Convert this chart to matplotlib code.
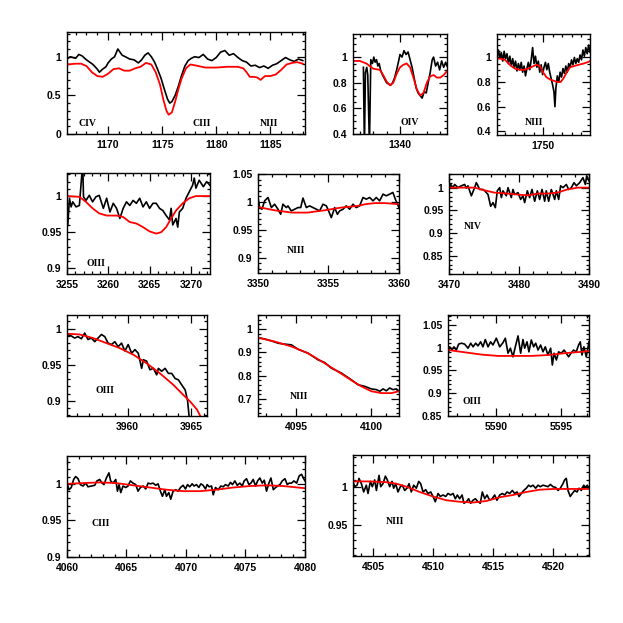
import matplotlib
matplotlib.use('Agg')
import matplotlib.pyplot as plt
from matplotlib.ticker import MultipleLocator, FuncFormatter

# Observed spectrum (black) and model (red), one pair of lists per window.

# CIV / CIII / NIII  1166-1188
w1_obs = [1166.2, 1166.5, 1167.0, 1167.3, 1167.6, 1168.0, 1168.3, 1168.6, 1169.0, 1169.2,
          1169.5, 1169.8, 1170.0, 1170.3, 1170.6, 1170.9, 1171.1, 1171.3, 1171.6, 1172.0,
          1172.4, 1172.8, 1173.1, 1173.4, 1173.7, 1174.0, 1174.3, 1174.6, 1174.9, 1175.2,
          1175.5, 1175.7, 1175.9, 1176.2, 1176.5, 1176.8, 1177.1, 1177.4, 1177.7, 1178.0,
          1178.4, 1178.8, 1179.2, 1179.6, 1180.0, 1180.4, 1180.8, 1181.2, 1181.6, 1182.0,
          1182.4, 1182.8, 1183.2, 1183.6, 1184.0, 1184.4, 1184.8, 1185.2, 1185.6, 1186.0,
          1186.4, 1186.8, 1187.2, 1187.6, 1188.0]
f1_obs = [0.97, 1.00, 0.98, 1.03, 1.01, 0.96, 0.93, 0.90, 0.84, 0.80,
          0.84, 0.87, 0.92, 0.97, 1.00, 1.10, 1.06, 1.02, 1.00, 0.97,
          0.96, 0.92, 0.96, 1.02, 1.05, 1.00, 0.93, 0.83, 0.72, 0.58,
          0.45, 0.40, 0.42, 0.50, 0.62, 0.76, 0.88, 0.95, 0.98, 1.00,
          0.99, 1.03, 0.97, 0.95, 0.99, 1.06, 1.08, 1.02, 1.04, 0.99,
          0.95, 0.93, 0.88, 0.89, 0.86, 0.88, 0.85, 0.89, 0.91, 0.95,
          0.99, 0.96, 0.94, 0.97, 0.95]
w1_mod = [1166.2, 1167.0, 1167.5, 1168.0, 1168.5, 1169.0, 1169.5, 1170.0, 1170.5, 1171.0,
          1171.5, 1172.0, 1172.5, 1173.0, 1173.5, 1174.0, 1174.4, 1174.8, 1175.1, 1175.4,
          1175.6, 1175.9, 1176.2, 1176.5, 1176.8, 1177.2, 1177.6, 1178.0, 1179.0, 1180.0,
          1181.0, 1182.0, 1182.5, 1182.8, 1183.1, 1183.5, 1183.8, 1184.1, 1184.5, 1185.0,
          1185.5, 1186.0, 1186.5, 1187.0, 1187.5, 1188.0]
f1_mod = [0.90, 0.91, 0.91, 0.88, 0.80, 0.75, 0.74, 0.78, 0.84, 0.85,
          0.82, 0.82, 0.85, 0.87, 0.92, 0.90, 0.80, 0.64, 0.45, 0.30,
          0.25, 0.28, 0.42, 0.58, 0.72, 0.85, 0.90, 0.89, 0.86, 0.86,
          0.87, 0.87, 0.85, 0.80, 0.74, 0.74, 0.73, 0.70, 0.75, 0.75,
          0.77, 0.83, 0.90, 0.92, 0.93, 0.91]

# OIV  1333-1347
w2_obs = [1334.55, 1334.7, 1334.85, 1335.05, 1335.2, 1335.45, 1335.65, 1335.9, 1336.1, 1336.3,
          1336.5, 1336.7, 1336.9, 1337.1, 1337.4, 1337.7, 1338.0, 1338.3, 1338.6, 1338.9,
          1339.2, 1339.5, 1339.8, 1340.0, 1340.3, 1340.6, 1340.9, 1341.2, 1341.5, 1341.8,
          1342.1, 1342.4, 1342.7, 1343.0, 1343.3, 1343.6, 1343.9, 1344.2, 1344.5, 1344.8,
          1345.0, 1345.3, 1345.6, 1345.9, 1346.2, 1346.5, 1346.8, 1347.0]
f2_obs = [0.92, 0.30, 0.88, 0.92, 0.86, 0.30, 0.98, 0.95, 1.00, 0.96,
          0.98, 0.93, 0.95, 0.90, 0.86, 0.83, 0.80, 0.79, 0.78, 0.80,
          0.84, 0.90, 0.97, 1.02, 1.00, 1.05, 1.02, 1.04, 0.98, 0.92,
          0.84, 0.76, 0.72, 0.70, 0.68, 0.73, 0.72, 0.80, 0.88, 0.98,
          1.00, 0.93, 0.96, 0.90, 0.97, 0.92, 0.96, 0.93]
w2_mod = [1333.0, 1334.0, 1335.0, 1336.0, 1337.0, 1337.5, 1338.0, 1338.5, 1339.0, 1339.5,
          1340.0, 1340.5, 1341.0, 1341.5, 1342.0, 1342.5, 1343.0, 1343.5, 1344.0, 1344.5,
          1345.0, 1345.5, 1346.0, 1346.5, 1347.0]
f2_mod = [0.97, 0.97, 0.95, 0.91, 0.90, 0.86, 0.81, 0.78, 0.80, 0.87,
          0.92, 0.94, 0.95, 0.92, 0.84, 0.75, 0.70, 0.72, 0.80, 0.85,
          0.86, 0.84, 0.84, 0.86, 0.89]

# NIII  1740-1760
w3_obs = [1740.2, 1740.3, 1740.6, 1740.9, 1741.2, 1741.5, 1741.8, 1742.1, 1742.4, 1742.7,
          1743.0, 1743.3, 1743.6, 1743.9, 1744.2, 1744.5, 1744.8, 1745.1, 1745.4, 1745.7,
          1746.0, 1746.3, 1746.6, 1746.9, 1747.2, 1747.5, 1747.8, 1748.1, 1748.4, 1748.7,
          1749.0, 1749.3, 1749.6, 1749.9, 1750.2, 1750.5, 1750.8, 1751.1, 1751.4, 1751.7,
          1752.0, 1752.3, 1752.5, 1752.7, 1753.0, 1753.3, 1753.6, 1753.9, 1754.2, 1754.5,
          1754.8, 1755.1, 1755.4, 1755.7, 1756.0, 1756.3, 1756.6, 1756.9, 1757.2, 1757.5,
          1757.8, 1758.1, 1758.4, 1758.7, 1759.0, 1759.3, 1759.6, 1759.9, 1760.4]
f3_obs = [1.02, 0.98, 1.06, 1.00, 1.04, 0.97, 1.05, 0.99, 1.03, 0.95,
          1.01, 0.93, 0.99, 0.92, 0.97, 0.89, 0.95, 0.90, 0.96, 0.88,
          0.93, 0.85, 0.91, 0.96, 0.90, 0.98, 1.08, 0.95, 1.01, 0.92,
          0.97, 0.88, 0.94, 0.86, 0.92, 0.96, 0.90, 0.95, 0.88, 0.83,
          0.78, 0.72, 0.60, 0.75, 0.85, 0.80, 0.88, 0.84, 0.91, 0.87,
          0.93, 0.88, 0.95, 0.92, 0.98, 0.94, 1.00, 0.95, 0.99, 0.96,
          1.02, 0.98, 1.06, 1.01, 1.08, 1.03, 1.10, 1.04, 1.07]
w3_mod = [1740.2, 1741.0, 1742.0, 1743.0, 1744.0, 1745.0, 1746.0, 1747.0, 1748.0, 1748.7,
          1749.3, 1750.0, 1750.7, 1751.5, 1752.3, 1753.0, 1753.7, 1754.3, 1755.0, 1755.7,
          1756.5, 1757.5, 1758.5, 1759.3, 1760.4]
f3_mod = [0.99, 0.99, 0.98, 0.94, 0.91, 0.90, 0.90, 0.91, 0.93, 0.94,
          0.93, 0.88, 0.84, 0.82, 0.81, 0.80, 0.80, 0.83, 0.88, 0.92,
          0.93, 0.94, 0.95, 0.96, 0.98]

# OIII  3255-3272
w4_obs = [3255.0, 3255.1, 3255.3, 3255.5, 3255.7, 3256.1, 3256.5, 3256.9, 3257.0, 3257.3,
          3257.7, 3258.1, 3258.5, 3258.9, 3259.4, 3259.8, 3260.2, 3260.6, 3261.0, 3261.4,
          3261.8, 3262.2, 3262.6, 3263.0, 3263.4, 3263.8, 3264.2, 3264.6, 3265.0, 3265.4,
          3265.8, 3266.2, 3266.6, 3267.0, 3267.4, 3267.6, 3267.8, 3268.2, 3268.4, 3268.6,
          3269.0, 3269.4, 3269.8, 3270.2, 3270.4, 3270.6, 3271.0, 3271.5, 3271.9, 3272.3]
f4_obs = [0.958, 0.960, 0.997, 0.985, 0.992, 0.985, 0.987, 1.045, 0.999, 0.994,
          1.001, 0.992, 0.999, 1.001, 0.983, 0.997, 0.978, 0.990, 0.983, 0.969,
          0.983, 0.992, 0.987, 0.994, 0.990, 0.997, 0.985, 0.992, 0.983, 0.990,
          0.990, 0.983, 0.980, 0.973, 0.967, 0.983, 0.960, 0.969, 0.957, 0.978,
          0.983, 0.997, 1.006, 1.015, 1.025, 1.011, 1.022, 1.013, 1.020, 1.015]
w4_mod = [3255.0, 3256.5, 3257.3, 3258.1, 3258.9, 3259.8, 3261.0, 3261.8, 3262.6, 3263.4,
          3264.2, 3265.0, 3265.8, 3266.4, 3267.0, 3267.6, 3268.2, 3269.0, 3269.8, 3270.6,
          3272.3]
f4_mod = [1.000, 0.999, 0.992, 0.983, 0.976, 0.973, 0.973, 0.971, 0.964, 0.962,
          0.957, 0.951, 0.948, 0.950, 0.957, 0.969, 0.980, 0.990, 0.997, 1.000,
          1.000]

# NIII  3350-3360
w5_obs = [3350.0, 3350.12, 3350.28, 3350.47, 3350.71, 3350.95, 3351.18, 3351.42, 3351.61, 3351.77,
          3352.01, 3352.13, 3352.36, 3352.60, 3352.84, 3353.03, 3353.19, 3353.43, 3353.66, 3353.90,
          3354.14, 3354.37, 3354.61, 3354.85, 3355.01, 3355.20, 3355.44, 3355.63, 3355.79, 3356.03,
          3356.26, 3356.50, 3356.74, 3356.97, 3357.21, 3357.45, 3357.68, 3357.92, 3358.16, 3358.39,
          3358.63, 3358.87, 3359.10, 3359.34, 3359.57, 3359.74, 3360.0]
f5_obs = [1.008, 0.990, 0.987, 1.002, 1.008, 0.990, 0.996, 0.987, 0.978, 0.996,
          0.990, 0.993, 0.984, 0.987, 0.990, 0.990, 1.007, 0.990, 0.993, 0.990,
          0.987, 0.984, 0.996, 0.993, 0.984, 0.972, 0.990, 0.978, 0.984, 0.987,
          0.993, 0.987, 0.996, 0.990, 0.993, 1.008, 1.005, 1.008, 1.002, 1.008,
          1.002, 1.014, 1.011, 1.014, 1.017, 1.005, 0.990]
w5_mod = [3350.0, 3351.2, 3352.4, 3353.5, 3354.7, 3355.9, 3357.1, 3357.6, 3358.3, 3359.0,
          3360.0]
f5_mod = [0.991, 0.985, 0.981, 0.981, 0.985, 0.990, 0.993, 0.996, 0.998, 0.998,
          0.996]

# NIV  3470-3490
w6_obs = [3470.0, 3470.24, 3470.57, 3470.81, 3471.29, 3471.76, 3472.24, 3472.48, 3472.71, 3473.19,
          3473.67, 3473.90, 3474.14, 3474.38, 3474.86, 3475.10, 3475.57, 3475.95, 3476.29, 3476.62,
          3476.90, 3477.24, 3477.48, 3477.71, 3478.19, 3478.43, 3478.90, 3479.14, 3479.38, 3479.86,
          3480.24, 3480.57, 3480.81, 3481.19, 3481.52, 3481.86, 3482.24, 3482.62, 3482.95, 3483.29,
          3483.67, 3483.90, 3484.24, 3484.62, 3485.10, 3485.33, 3485.67, 3485.95, 3486.29, 3486.76,
          3487.10, 3487.48, 3487.86, 3488.19, 3488.67, 3489.14, 3489.48, 3489.67, 3490.0]
f6_obs = [0.996, 1.007, 1.000, 1.007, 1.000, 1.004, 1.007, 0.999, 1.004, 0.982,
          1.000, 1.011, 1.004, 0.996, 0.996, 0.993, 0.985, 0.959, 0.967, 0.956,
          0.993, 1.000, 0.978, 0.993, 0.982, 1.000, 0.978, 0.996, 0.985, 0.989,
          0.974, 0.982, 0.967, 0.993, 0.978, 0.996, 0.970, 0.993, 0.974, 0.996,
          0.970, 0.993, 0.970, 0.996, 0.974, 0.993, 0.974, 1.004, 1.000, 1.007,
          0.996, 1.000, 1.011, 1.004, 1.011, 1.022, 1.007, 1.026, 1.015]
w6_mod = [3470.0, 3473.7, 3475.1, 3476.5, 3478.4, 3480.3, 3481.3, 3482.7, 3484.1, 3485.5,
          3486.9, 3488.4, 3490.0]
f6_mod = [1.000, 1.000, 0.994, 0.989, 0.987, 0.984, 0.983, 0.987, 0.987, 0.989,
          0.996, 1.000, 1.000]

# OIII  3955-3966
w7_obs = [3955.24, 3955.58, 3955.84, 3956.11, 3956.37, 3956.63, 3956.89, 3957.16, 3957.42, 3957.68,
          3957.95, 3958.21, 3958.47, 3958.74, 3959.00, 3959.26, 3959.53, 3959.79, 3960.05, 3960.32,
          3960.58, 3960.84, 3961.11, 3961.24, 3961.50, 3961.76, 3962.03, 3962.29, 3962.42, 3962.68,
          3962.95, 3963.21, 3963.47, 3963.74, 3964.00, 3964.26, 3964.53, 3964.71, 3964.84, 3964.92]
f7_obs = [0.992, 0.990, 0.987, 0.989, 0.986, 0.994, 0.985, 0.987, 0.982, 0.987,
          0.992, 0.989, 0.980, 0.978, 0.982, 0.975, 0.980, 0.969, 0.978, 0.966,
          0.971, 0.966, 0.945, 0.957, 0.955, 0.943, 0.945, 0.936, 0.945, 0.941,
          0.945, 0.938, 0.938, 0.931, 0.929, 0.922, 0.915, 0.901, 0.878, 0.860]
w7_mod = [3955.24, 3956.24, 3957.29, 3958.34, 3959.39, 3960.45, 3961.50, 3962.55, 3963.61, 3964.39,
          3964.92, 3965.45, 3965.71, 3966.0]
f7_mod = [0.993, 0.992, 0.987, 0.980, 0.973, 0.964, 0.952, 0.938, 0.922, 0.908,
          0.899, 0.888, 0.879, 0.868]

# NIII  4092-4102
w8_obs = [4092.44, 4092.89, 4093.33, 4093.78, 4094.22, 4094.67, 4095.11, 4095.78, 4096.44, 4096.89,
          4097.33, 4098.00, 4098.67, 4099.11, 4099.56, 4100.00, 4100.33, 4100.56, 4100.78, 4101.00,
          4101.22, 4101.44, 4101.67, 4101.84]
f8_obs = [0.963, 0.957, 0.949, 0.939, 0.935, 0.932, 0.913, 0.896, 0.868, 0.856,
          0.832, 0.811, 0.782, 0.761, 0.754, 0.743, 0.740, 0.733, 0.743, 0.735,
          0.747, 0.740, 0.743, 0.733]
w8_mod = [4092.44, 4093.56, 4094.67, 4095.78, 4096.89, 4098.00, 4098.67, 4099.33, 4100.00, 4100.67,
          4101.33, 4101.84]
f8_mod = [0.963, 0.946, 0.925, 0.896, 0.853, 0.808, 0.780, 0.754, 0.733, 0.725,
          0.725, 0.733]

# OIII  5586-5597
w9_obs = [5586.28, 5586.41, 5586.59, 5586.74, 5586.92, 5587.10, 5587.31, 5587.56, 5587.82, 5588.03,
          5588.21, 5588.41, 5588.59, 5588.79, 5588.97, 5589.15, 5589.36, 5589.56, 5589.74, 5590.00,
          5590.26, 5590.51, 5590.69, 5590.90, 5591.08, 5591.28, 5591.46, 5591.67, 5591.87, 5592.05,
          5592.18, 5592.36, 5592.51, 5592.69, 5592.87, 5593.03, 5593.21, 5593.41, 5593.59, 5593.77,
          5593.97, 5594.18, 5594.31, 5594.44, 5594.62, 5594.79, 5595.00, 5595.21, 5595.38, 5595.56,
          5595.77, 5595.95, 5596.15, 5596.33, 5596.46, 5596.59, 5596.74, 5596.92, 5597.13]
f9_obs = [0.984, 1.002, 0.996, 1.002, 0.995, 1.008, 1.010, 1.008, 0.999, 1.010,
          1.002, 1.010, 1.004, 1.013, 1.002, 1.018, 1.002, 1.013, 1.006, 1.021,
          1.002, 1.011, 1.021, 0.988, 0.999, 0.980, 1.002, 1.026, 0.988, 1.018,
          0.999, 1.013, 0.991, 1.017, 1.002, 1.010, 0.995, 1.006, 0.991, 1.002,
          0.984, 0.999, 0.962, 0.988, 0.973, 0.991, 0.988, 0.995, 0.988, 0.980,
          0.989, 0.995, 0.991, 1.006, 1.013, 0.984, 1.002, 0.980, 1.013]
w9_mod = [5586.28, 5587.56, 5588.85, 5590.13, 5591.41, 5592.69, 5593.97, 5595.26, 5596.54, 5597.13]
f9_mod = [0.995, 0.990, 0.985, 0.982, 0.982, 0.982, 0.984, 0.988, 0.991, 0.993]

# CIII  4060-4080
w10_obs = [4060.00, 4060.17, 4060.36, 4060.56, 4060.73, 4060.93, 4061.12, 4061.35, 4061.57, 4061.77,
           4062.05, 4062.33, 4062.52, 4062.75, 4062.95, 4063.11, 4063.31, 4063.53, 4063.67, 4063.87,
           4064.10, 4064.24, 4064.38, 4064.52, 4064.71, 4064.94, 4065.13, 4065.33, 4065.55, 4065.78,
           4065.97, 4066.17, 4066.40, 4066.62, 4066.82, 4067.01, 4067.24, 4067.46, 4067.66, 4067.85,
           4068.02, 4068.22, 4068.36, 4068.56, 4068.72, 4068.92, 4069.14, 4069.34, 4069.54, 4069.76,
           4069.96, 4070.13, 4070.32, 4070.52, 4070.69, 4070.88, 4071.08, 4071.25, 4071.44, 4071.64,
           4071.78, 4071.95, 4072.15, 4072.29, 4072.48, 4072.71, 4072.93, 4073.13, 4073.32, 4073.55,
           4073.74, 4073.91, 4074.11, 4074.31, 4074.53, 4074.73, 4074.89, 4075.09, 4075.29, 4075.46,
           4075.65, 4075.85, 4076.02, 4076.21, 4076.41, 4076.58, 4076.77, 4076.97, 4077.14, 4077.34,
           4077.53, 4077.70, 4077.90, 4078.09, 4078.32, 4078.51, 4078.68, 4078.88, 4079.07, 4079.30,
           4079.52, 4079.72, 4079.86, 4080.00]
f10_obs = [1.001, 0.992, 0.995, 1.006, 1.010, 1.007, 0.999, 0.997, 1.001, 0.996,
           0.997, 0.998, 1.004, 1.006, 1.001, 0.999, 1.008, 1.015, 1.004, 1.001,
           1.006, 0.990, 0.999, 0.988, 0.997, 0.995, 0.997, 1.004, 1.001, 0.999,
           0.990, 0.995, 0.997, 0.993, 1.001, 1.000, 1.001, 0.998, 1.000, 0.990,
           0.983, 0.992, 0.983, 0.988, 0.979, 0.990, 0.992, 0.990, 0.995, 0.998,
           0.993, 0.999, 0.996, 1.000, 0.997, 0.999, 0.995, 1.000, 0.998, 0.993,
           0.999, 0.996, 0.997, 0.985, 0.995, 0.992, 0.997, 0.996, 0.999, 0.997,
           1.002, 0.999, 1.004, 0.998, 1.001, 0.997, 1.004, 1.007, 0.999, 1.001,
           1.006, 0.997, 1.004, 1.008, 1.001, 1.005, 0.990, 1.001, 1.008, 0.992,
           0.995, 0.997, 0.999, 1.004, 1.007, 0.999, 1.001, 1.001, 1.004, 1.001,
           1.011, 1.013, 1.008, 1.004]
w10_mod = [4060.0, 4061.35, 4062.75, 4064.15, 4065.55, 4066.96, 4068.36, 4069.76, 4071.16, 4072.57,
           4073.97, 4075.37, 4076.77, 4078.18, 4080.0]
f10_mod = [1.000, 1.001, 1.002, 1.001, 0.998, 0.995, 0.992, 0.990, 0.990, 0.992,
           0.995, 0.997, 0.998, 0.997, 0.994]

# NIII  4503-4523
w11_obs = [4503.33, 4503.47, 4503.67, 4503.83, 4504.03, 4504.22, 4504.44, 4504.58, 4504.78, 4504.94,
           4505.14, 4505.28, 4505.50, 4505.64, 4505.83, 4506.03, 4506.19, 4506.39, 4506.58, 4506.72,
           4506.89, 4507.08, 4507.28, 4507.44, 4507.64, 4507.83, 4508.00, 4508.19, 4508.39, 4508.61,
           4508.81, 4508.97, 4509.17, 4509.39, 4509.58, 4509.81, 4510.00, 4510.19, 4510.42, 4510.61,
           4510.83, 4511.06, 4511.25, 4511.47, 4511.67, 4511.86, 4512.03, 4512.22, 4512.42, 4512.58,
           4512.78, 4512.97, 4513.14, 4513.33, 4513.53, 4513.75, 4513.94, 4514.11, 4514.31, 4514.50,
           4514.72, 4514.92, 4515.14, 4515.33, 4515.56, 4515.78, 4515.97, 4516.17, 4516.39, 4516.61,
           4516.81, 4517.00, 4517.17, 4517.36, 4517.56, 4517.78, 4517.97, 4518.14, 4518.33, 4518.56,
           4518.75, 4518.94, 4519.17, 4519.39, 4519.58, 4519.78, 4520.00, 4520.22, 4520.42, 4520.61,
           4520.83, 4520.97, 4521.11, 4521.25, 4521.44, 4521.61, 4521.81, 4522.00, 4522.17, 4522.36,
           4522.56, 4522.72, 4522.86, 4523.00]
f11_obs = [1.008, 1.001, 1.003, 1.012, 1.005, 0.994, 1.003, 0.992, 1.008, 1.001,
           1.010, 0.996, 1.016, 1.001, 1.005, 1.015, 1.010, 1.001, 1.008, 0.999,
           1.005, 0.994, 1.001, 1.003, 0.996, 0.999, 1.005, 0.994, 1.003, 0.999,
           1.008, 1.005, 0.994, 0.997, 0.992, 0.994, 0.988, 0.981, 0.992, 0.988,
           0.990, 0.988, 0.992, 0.990, 0.992, 0.985, 0.990, 0.985, 0.990, 0.979,
           0.981, 0.985, 0.979, 0.983, 0.985, 0.981, 0.979, 0.994, 0.985, 0.990,
           0.983, 0.985, 0.990, 0.983, 0.990, 0.992, 0.990, 0.994, 0.992, 0.996,
           0.992, 0.994, 0.988, 0.992, 0.996, 0.999, 1.003, 1.001, 1.003, 0.999,
           1.003, 1.001, 1.003, 1.002, 1.001, 1.004, 1.001, 1.000, 0.996, 0.999,
           1.005, 1.010, 1.012, 0.996, 0.988, 0.992, 0.996, 0.994, 0.999, 0.996,
           1.003, 1.000, 1.003, 0.999]
w11_mod = [4503.33, 4504.72, 4506.11, 4506.94, 4507.78, 4508.89, 4510.00, 4511.11, 4512.22, 4513.33,
           4514.44, 4515.56, 4516.67, 4517.78, 4518.89, 4520.00, 4521.39, 4523.00]
f11_mod = [1.008, 1.008, 1.007, 1.005, 1.001, 0.994, 0.988, 0.983, 0.981, 0.980,
           0.982, 0.987, 0.990, 0.994, 0.997, 0.998, 0.998, 0.998]

# panel layout: rect, xlim, ylim, x major/minor, y major/minor, ion label, label position
panels = [
    ([0.1075, 0.7849, 0.3820, 0.1637], (1166.2, 1188.2), (0.0, 1.32), 5, 1, 0.5, 0.1,
     w1_obs, f1_obs, w1_mod, f1_mod, [('CIV', 0.087), ('CIII', 0.566), ('NIII', 0.85)], 0.10),
    ([0.5666, 0.7849, 0.1509, 0.1605], (1333, 1347), (0.4, 1.18), 10, 2, 0.2, 0.05,
     w2_obs, f2_obs, w2_mod, f2_mod, [('OIV', 0.60)], 0.12),
    ([0.7978, 0.7833, 0.1493, 0.1621], (1740.3, 1759.9), (0.37, 1.19), 10, 2, 0.2, 0.05,
     w3_obs, f3_obs, w3_mod, f3_mod, [('NIII', 0.40)], 0.12),
    ([0.1075, 0.5602, 0.2295, 0.1621], (3255, 3272.3), (0.892, 1.032), 5, 1, 0.05, 0.01,
     w4_obs, f4_obs, w4_mod, f4_mod, [('OIII', 0.20)], 0.10),
    ([0.4141, 0.5618, 0.2263, 0.1589], (3350, 3360), (0.873, 1.05), 5, 1, 0.05, 0.01,
     w5_obs, f5_obs, w5_mod, f5_mod, [('NIII', 0.27)], 0.23),
    ([0.7207, 0.5602, 0.2247, 0.1605], (3470, 3490), (0.81, 1.03), 10, 2, 0.05, 0.01,
     w6_obs, f6_obs, w6_mod, f6_mod, [('NIV', 0.17)], 0.47),
    ([0.1075, 0.3323, 0.2247, 0.1621], (3955.24, 3966.24), (0.879, 1.019), 5, 1, 0.05, 0.01,
     w7_obs, f7_obs, w7_mod, f7_mod, [('OIII', 0.27)], 0.25),
    ([0.4141, 0.3323, 0.2263, 0.1621], (4092.44, 4101.84), (0.627, 1.06), 5, 1, 0.1, 0.02,
     w8_obs, f8_obs, w8_mod, f8_mod, [('NIII', 0.29)], 0.19),
    ([0.7191, 0.3323, 0.2263, 0.1621], (5586.28, 5597.13), (0.85, 1.072), 5, 1, 0.05, 0.01,
     w9_obs, f9_obs, w9_mod, f9_mod, [('OIII', 0.17)], 0.14),
    ([0.1075, 0.1059, 0.3820, 0.1621], (4060, 4080), (0.9, 1.038), 5, 1, 0.05, 0.01,
     w10_obs, f10_obs, w10_mod, f10_mod, [('CIII', 0.14)], 0.33),
    ([0.5666, 0.1075, 0.3788, 0.1621], (4503.33, 4523.0), (0.909, 1.043), 5, 1, 0.05, 0.01,
     w11_obs, f11_obs, w11_mod, f11_mod, [('NIII', 0.18)], 0.34),
]

fmt = FuncFormatter(lambda v, p: '%g' % round(v, 4))

fig = plt.figure(figsize=(6.23, 6.23), dpi=100)

for (rect, xl, yl, xmaj, xmin, ymaj, ymin, wo, fo, wm, fm, labels, ly) in panels:
    ax = fig.add_axes(rect)
    ax.plot(wo, fo, color='k', lw=1.2)
    ax.plot(wm, fm, color='red', lw=1.3)
    ax.set_xlim(*xl)
    ax.set_ylim(*yl)
    ax.xaxis.set_major_locator(MultipleLocator(xmaj))
    ax.xaxis.set_minor_locator(MultipleLocator(xmin))
    ax.yaxis.set_major_locator(MultipleLocator(ymaj))
    ax.yaxis.set_minor_locator(MultipleLocator(ymin))
    ax.xaxis.set_major_formatter(fmt)
    ax.yaxis.set_major_formatter(fmt)
    ax.tick_params(which='both', direction='in', top=True, right=True, width=0.9)
    ax.tick_params(which='major', length=5.5, labelsize=7.5, pad=4)
    ax.tick_params(which='minor', length=2.5)
    for lab in ax.get_xticklabels() + ax.get_yticklabels():
        lab.set_fontfamily('Liberation Sans')
        lab.set_fontweight('bold')
    for s in ax.spines.values():
        s.set_linewidth(1.0)
    for txt, lx in labels:
        ax.text(lx, ly, txt, transform=ax.transAxes, ha='center', va='center',
                fontsize=7, fontweight='bold', family='Liberation Serif')

fig.savefig('out.png', dpi=100)
